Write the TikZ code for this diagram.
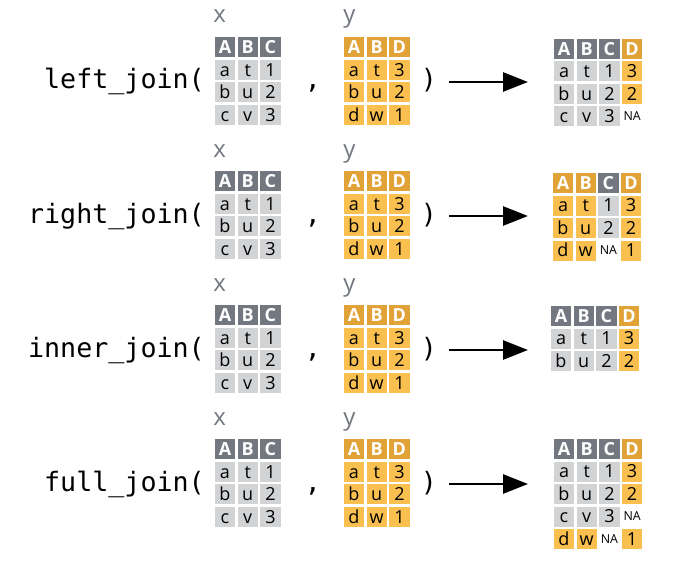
\documentclass[tikz,border=0pt]{standalone}
\usepackage{fontspec}
\setmainfont{Open Sans}
\newfontfamily\codefont{DejaVu Sans Mono}
\usetikzlibrary{arrows.meta}
\usetikzlibrary{positioning}

\definecolor{xdark}{HTML}{737780}
\definecolor{xlight}{HTML}{D2D3D5}
\definecolor{ydark}{HTML}{E1A237}
\definecolor{ylight}{HTML}{FAC04F}

\begin{document}
\begin{tikzpicture}[x=0.75pt, y=-0.75pt,
        cell/.style={minimum width=15.3pt, minimum height=15pt, inner sep=0pt,
            text height=9.7pt, text depth=0pt, text=black,
            font=\fontsize{13.5}{13.5}\selectfont},
        gh/.style={cell, fill=xdark, text=white, font=\fontsize{13.5}{13.5}\selectfont\bfseries},
        oh/.style={cell, fill=ydark, text=white, font=\fontsize{13.5}{13.5}\selectfont\bfseries},
        gc/.style={cell, fill=xlight},
        oc/.style={cell, fill=ylight},
        na/.style={cell, text height=6.6pt, font=\fontsize{9.3}{9.3}\selectfont},
        call/.style={font=\codefont\fontsize{20}{20}\selectfont, inner sep=0pt},
        tname/.style={font=\fontsize{18}{18}\selectfont, text=xdark, inner sep=0pt, anchor=base west},
        joinarrow/.style={line width=2pt, -{Triangle[length=18.75pt, width=14.25pt]}}]
    \useasboundingbox (0,0) rectangle (681,563);

    % Calls with the two input tables
    \foreach \f [count=\r from 0] in {left, right, inner, full} {
        \pgfmathsetmacro{\T}{37+134*\r}
        \node[call, anchor=base east] (call\r) at (205, {\T+52}) {\f\_join(};
        \node[call, anchor=base] (comma\r) at (313, {\T+52}) {,};
        \node[call, anchor=base] (rp\r) at (429, {\T+52}) {)};

        % Table x
        \node[tname] (xname\r) at (213, {\T-14}) {x};
        \foreach \c/\k/\s/\t in {0/0/gh/A, 1/0/gh/B, 2/0/gh/C,
                0/1/gc/a, 1/1/gc/t, 2/1/gc/1,
                0/2/gc/b, 1/2/gc/u, 2/2/gc/2,
                0/3/gc/c, 1/3/gc/v, 2/3/gc/3}
            \node[\s] (x\r\c\k) at ({225+22.7*\c}, {\T+10+22.6*\k}) {\t};

        % Table y
        \node[tname] (yname\r) at (343, {\T-14}) {y};
        \foreach \c/\k/\s/\t in {0/0/oh/A, 1/0/oh/B, 2/0/oh/D,
                0/1/oc/a, 1/1/oc/t, 2/1/oc/3,
                0/2/oc/b, 1/2/oc/u, 2/2/oc/2,
                0/3/oc/d, 1/3/oc/w, 2/3/oc/1}
            \node[\s] (y\r\c\k) at ({354+22.7*\c}, {\T+10+22.6*\k}) {\t};

        % Arrow
        \coordinate (from\r) at (449, {\T+45});
        \coordinate (to\r) at (528, {\T+45});
        \draw[joinarrow] (from\r) -- (to\r);
    }

    % left_join result
    \foreach \c/\k/\s/\t in {0/0/gh/A, 1/0/gh/B, 2/0/gh/C, 3/0/oh/D,
            0/1/gc/a, 1/1/gc/t, 2/1/gc/1, 3/1/oc/3,
            0/2/gc/b, 1/2/gc/u, 2/2/gc/2, 3/2/oc/2,
            0/3/gc/c, 1/3/gc/v, 2/3/gc/3, 3/3/na/NA}
        \node[\s] (left\c\k) at ({564+22.7*\c}, {49+22.5*\k}) {\t};

    % right_join result
    \foreach \c/\k/\s/\t in {0/0/oh/A, 1/0/oh/B, 2/0/gh/C, 3/0/oh/D,
            0/1/oc/a, 1/1/oc/t, 2/1/gc/1, 3/1/oc/3,
            0/2/oc/b, 1/2/oc/u, 2/2/gc/2, 3/2/oc/2,
            0/3/oc/d, 1/3/oc/w, 2/3/na/NA, 3/3/oc/1}
        \node[\s] (right\c\k) at ({563+22.7*\c}, {183+22.5*\k}) {\t};

    % inner_join result
    \foreach \c/\k/\s/\t in {0/0/gh/A, 1/0/gh/B, 2/0/gh/C, 3/0/oh/D,
            0/1/gc/a, 1/1/gc/t, 2/1/gc/1, 3/1/oc/3,
            0/2/gc/b, 1/2/gc/u, 2/2/gc/2, 3/2/oc/2}
        \node[\s] (inner\c\k) at ({561+22.7*\c}, {316+22.5*\k}) {\t};

    % full_join result
    \foreach \c/\k/\s/\t in {0/0/gh/A, 1/0/gh/B, 2/0/gh/C, 3/0/oh/D,
            0/1/gc/a, 1/1/gc/t, 2/1/gc/1, 3/1/oc/3,
            0/2/gc/b, 1/2/gc/u, 2/2/gc/2, 3/2/oc/2,
            0/3/gc/c, 1/3/gc/v, 2/3/gc/3, 3/3/na/NA,
            0/4/oc/d, 1/4/oc/w, 2/4/na/NA, 3/4/oc/1}
        \node[\s] (full\c\k) at ({564+22.7*\c}, {449+22.5*\k}) {\t};
\end{tikzpicture}
\end{document}
